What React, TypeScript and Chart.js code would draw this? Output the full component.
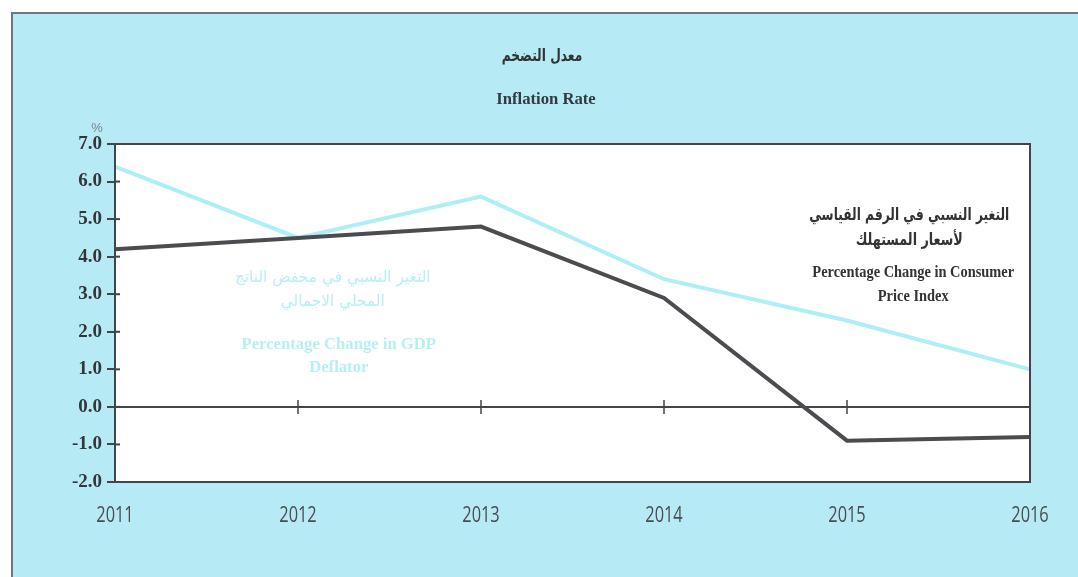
import React, { useEffect, useRef } from "react";
import { Chart, registerables } from "chart.js";

Chart.register(...registerables);

const years = ["2011", "2012", "2013", "2014", "2015", "2016"];
const cpiValues = [4.2, 4.5, 4.8, 2.9, -0.9, -0.8];
const gdpDeflatorValues = [6.4, 4.5, 5.6, 3.4, 2.3, 1.0];
const yTickMin = -2;
const yTickMax = 7;

const titleAr = "معدل التضخم";
const titleEn = "Inflation Rate";
const unitLabel = "%";
const gdpLabelAr = ["التغير النسبي في مخفض الناتج", "المحلي الاجمالي"];
const gdpLabelEn = ["Percentage Change in GDP", "Deflator"];
const cpiLabelAr = ["التغير النسبي في الرقم القياسي", "لأسعار المستهلك"];
const cpiLabelEn = ["Percentage Change in Consumer", "Price Index"];

const BG = "#b6ebf6";
const DARK = "#4b4c4f";
const PALE = "#aeeef5";
const PALE_TEXT = "#b8eff5";

function drawText(
  ctx: CanvasRenderingContext2D,
  text: string,
  x: number,
  y: number,
  font: string,
  color: string,
  rtl = false,
  sx = 1
) {
  ctx.save();
  ctx.font = font;
  ctx.fillStyle = color;
  ctx.textAlign = "center";
  ctx.textBaseline = "middle";
  (ctx as any).direction = rtl ? "rtl" : "ltr";
  ctx.translate(x, y);
  ctx.scale(sx, 1);
  ctx.fillText(text, 0, 0);
  ctx.restore();
}

const decorPlugin = {
  id: "decor",
  beforeDraw(chart: any) {
    const { ctx, width, height, chartArea } = chart;
    ctx.save();
    ctx.fillStyle = "#ffffff";
    ctx.fillRect(0, 0, width, height);
    ctx.fillStyle = BG;
    ctx.fillRect(12, 13, width - 12, height - 13);
    ctx.strokeStyle = "#6f777d";
    ctx.lineWidth = 2;
    ctx.beginPath();
    ctx.moveTo(12, height);
    ctx.lineTo(12, 13);
    ctx.lineTo(width, 13);
    ctx.stroke();
    ctx.fillStyle = "#ffffff";
    ctx.fillRect(chartArea.left, chartArea.top, chartArea.right - chartArea.left, chartArea.bottom - chartArea.top);
    ctx.restore();
  },
  afterDraw(chart: any) {
    const { ctx, width, chartArea } = chart;
    const xs = chart.scales.x;
    const ys = chart.scales.y;
    ctx.save();
    ctx.strokeStyle = "#444548";
    ctx.lineWidth = 2;
    ctx.strokeRect(chartArea.left, chartArea.top, chartArea.right - chartArea.left, chartArea.bottom - chartArea.top);
    for (let v = yTickMin; v <= yTickMax; v++) {
      const py = ys.getPixelForValue(v);
      ctx.beginPath();
      ctx.moveTo(chartArea.left, py);
      ctx.lineTo(chartArea.left + 5, py);
      ctx.stroke();
    }
    const y0 = ys.getPixelForValue(0);
    ctx.lineWidth = 1.5;
    for (let i = 1; i < years.length - 1; i++) {
      const px = xs.getPixelForValue(i);
      ctx.beginPath();
      ctx.moveTo(px, y0 - 7);
      ctx.lineTo(px, y0 + 7);
      ctx.stroke();
    }
    ctx.restore();

    xs.ticks.forEach((t: any, i: number) => {
      const lbl = xs.getLabelForValue(t.value);
      drawText(ctx, lbl, xs.getPixelForValue(i), chartArea.bottom + 34, "21px 'Open Sans'", "#4a4d50", false, 0.78);
    });

    const cx = width / 2 + 3;
    drawText(ctx, titleAr, cx, 57, "bold 17px 'DejaVu Sans'", "#333333", true, 0.72);
    drawText(ctx, titleEn, cx + 4, 100, "bold 17px 'Liberation Serif'", "#333a40", false, 0.98);
    drawText(ctx, unitLabel, 97, 128, "13px 'Liberation Sans'", "#7c8488");

    const gx = xs.getPixelForValue(1.19);
    const gy = ys.getPixelForValue(3.43);
    drawText(ctx, gdpLabelAr[0], gx, gy, "16px 'DejaVu Sans'", PALE_TEXT, true, 0.96);
    drawText(ctx, gdpLabelAr[1], gx, gy + 24, "16px 'DejaVu Sans'", PALE_TEXT, true, 0.96);
    drawText(ctx, gdpLabelEn[0], gx + 6, gy + 67, "bold 17px 'Liberation Serif'", PALE_TEXT, false, 0.98);
    drawText(ctx, gdpLabelEn[1], gx + 6, gy + 90, "bold 17px 'Liberation Serif'", PALE_TEXT, false, 0.98);

    const px = xs.getPixelForValue(4.34);
    const py = ys.getPixelForValue(5.1);
    drawText(ctx, cpiLabelAr[0], px, py, "bold 17px 'DejaVu Sans'", "#333333", true, 0.72);
    drawText(ctx, cpiLabelAr[1], px, py + 25, "bold 17px 'DejaVu Sans'", "#333333", true, 0.75);
    drawText(ctx, cpiLabelEn[0], px + 4, py + 58, "bold 16px 'Liberation Serif'", "#333333", false, 0.9);
    drawText(ctx, cpiLabelEn[1], px + 4, py + 82, "bold 16px 'Liberation Serif'", "#333333", false, 0.9);
  },
};

export default function App() {
  const ref = useRef<HTMLCanvasElement | null>(null);
  useEffect(() => {
    document.body.style.margin = "0";
    if (!ref.current) return;
    const chart = new Chart(ref.current, {
      type: "line",
      data: {
        labels: years,
        datasets: [
          {
            label: "CPI",
            data: cpiValues,
            borderColor: DARK,
            backgroundColor: DARK,
            borderWidth: 4,
            pointRadius: 0,
            tension: 0,
            order: 1,
          },
          {
            label: "GDP Deflator",
            data: gdpDeflatorValues,
            borderColor: PALE,
            backgroundColor: PALE,
            borderWidth: 4,
            pointRadius: 0,
            tension: 0,
            order: 2,
          },
        ],
      },
      options: {
        animation: false,
        responsive: false,
        maintainAspectRatio: false,
        layout: { padding: { left: 0, right: 48, top: 144, bottom: 0 } },
        plugins: {
          legend: { display: false },
          title: { display: false },
          tooltip: { enabled: false },
        },
        scales: {
          x: {
            type: "category",
            offset: false,
            grid: { display: false, drawTicks: false },
            border: { display: false },
            ticks: {
              color: "rgba(0,0,0,0)",
              padding: 22,
              font: { family: "'Open Sans'", size: 16 },
              maxRotation: 0,
              autoSkip: false,
            },
            afterFit: (s: any) => {
              s.height = 95;
            },
          },
          y: {
            min: yTickMin,
            max: yTickMax,
            ticks: {
              stepSize: 1,
              padding: 5,
              color: "#333538",
              font: { family: "'Liberation Serif'", size: 19, weight: "bold" },
              callback: (v: any) => Number(v).toFixed(1),
            },
            grid: {
              color: (c: any) => (c.tick && c.tick.value === 0 ? "#444548" : "rgba(0,0,0,0)"),
              lineWidth: 2,
              tickColor: "#444548",
              tickLength: 8,
              drawTicks: true,
            },
            border: { display: true, color: "#444548", width: 2 },
            afterFit: (s: any) => {
              s.width = 115;
            },
          },
        },
      },
      plugins: [decorPlugin],
    } as any);
    return () => chart.destroy();
  }, []);
  return <canvas ref={ref} width={1078} height={577} style={{ display: "block" }} />;
}
